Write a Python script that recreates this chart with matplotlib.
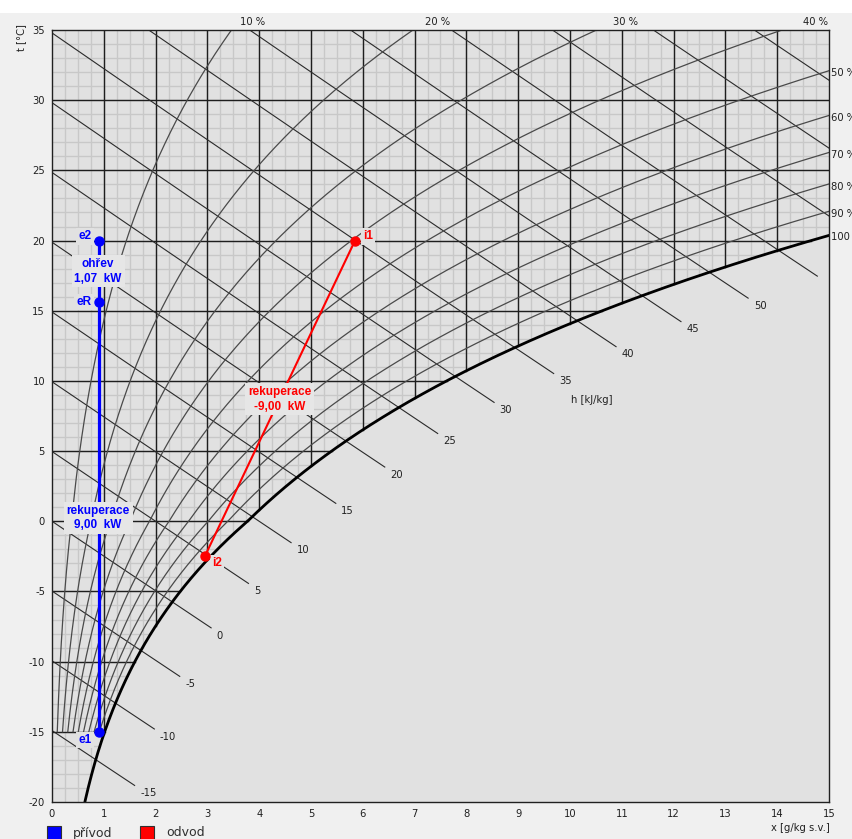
import numpy as np
import matplotlib
matplotlib.use("Agg")
import matplotlib.pyplot as plt
from matplotlib.patches import Rectangle

plt.rcParams["axes.unicode_minus"] = False
plt.rcParams["font.family"] = ["DejaVu Sans"]

# ---------------- data ----------------
x_ticks = list(range(0, 16))
t_ticks = list(range(-20, 40, 5))
rh_levels = [10, 20, 30, 40, 50, 60, 70, 80, 90]
h_levels = list(range(-15, 75, 5))
h_labeled = list(range(-15, 55, 5))

supply_names = ["e1", "eR", "e2"]
supply_x = [0.9, 0.9, 0.9]
supply_t = [-15.0, 15.6, 20.0]

exhaust_names = ["i1", "i2"]
exhaust_x = [5.85, 2.95]
exhaust_t = [20.0, -2.5]

supply_labels = ["ohřev\n1,07  kW", "rekuperace\n9,00  kW"]
exhaust_labels = ["rekuperace\n-9,00  kW"]

P = 101325.0

def ps(t):
    t = np.asarray(t, float)
    return np.where(t >= 0, 611.2 * np.exp(17.62 * t / (243.12 + t)),
                    611.2 * np.exp(22.46 * t / (272.62 + t)))

def xw(t, phi):
    p = phi * ps(t)
    return 622.0 * p / (P - p)

def enth(x, t):
    return 1.006 * t + x / 1000.0 * (2501 + 1.86 * t)

def t_on_h(h, x):
    return (h - 2.501 * x) / (1.006 + 0.00186 * x)

tt = np.linspace(-30, 40, 4000)
xs_sat = xw(tt, 1.0)
hs_sat = enth(xs_sat, tt)

def tsat_of_x(x):
    return np.interp(x, xs_sat, tt)

W, H = 853, 839
fig = plt.figure(figsize=(W / 100, H / 100), dpi=100, facecolor="#f0f0f0")
fig.patches.append(Rectangle((0, 1 - 13 / H), 1, 13 / H, transform=fig.transFigure,
                             facecolor="white", edgecolor="none", zorder=0))
L, R, T, B = 52, 829, 30, 802
ax = fig.add_axes([L / W, 1 - B / H, (R - L) / W, (B - T) / H])
BG = "#e1e1e1"
ax.set_facecolor(BG)
ax.set_xlim(0, 15)
ax.set_ylim(-20, 35)
TXT = "#202020"
FS = 7.2

# minor grid (only unsaturated area)
for xv in np.arange(0.25, 15, 0.25):
    ts = max(tsat_of_x(xv), -20)
    ax.plot([xv, xv], [ts, 35], color="#c8c8c8", lw=1.0, zorder=1)
for tv in range(-19, 35):
    xe = min(float(xw(tv, 1.0)), 15)
    ax.plot([0, xe], [tv, tv], color="#c8c8c8", lw=1.0, zorder=1)

# major grid
for xv in range(1, 15):
    ts = tsat_of_x(xv)
    ax.plot([xv, xv], [ts, 35], color="#1e1e1e", lw=1.0, zorder=2)
for tv in range(-15, 35, 5):
    xe = min(float(xw(tv, 1.0)), 15)
    ax.plot([0, xe], [tv, tv], color="#1e1e1e", lw=1.0, zorder=2)

# enthalpy lines
for h in h_levels:
    ts = np.interp(h, hs_sat, tt)
    xsat = float(xw(ts, 1.0))
    xe = xsat + 0.75
    xx = np.linspace(0, xe, 200)
    ax.plot(xx, t_on_h(h, xx), color="#2a2a2a", lw=0.8, zorder=3)
    if h in h_labeled:
        ax.annotate(str(h), (xe, t_on_h(h, xe)), xytext=(4, -2), textcoords="offset points",
                    ha="left", va="top", fontsize=FS, color=TXT, zorder=6)
ax.text(10.42, 8.65, "h [kJ/kg]", ha="center", va="center", fontsize=FS, color=TXT)

# relative humidity curves
tr = np.linspace(-15, 36, 600)
for rh in rh_levels:
    xr = xw(tr, rh / 100)
    ax.plot(xr, tr, color="#4a4a4a", lw=0.9, zorder=3)
    if xw(35, rh / 100) < 15:
        xl = float(xw(35.4, rh / 100))
        ax.annotate(f"{rh} %", (xl, 35), xytext=(3, 2), textcoords="offset points",
                    ha="left", va="bottom", fontsize=FS, color=TXT, annotation_clip=False)
    else:
        tl = np.interp(15, xr, tr)
        ax.annotate(f"{rh} %", (15, tl), xytext=(1.5, -2), textcoords="offset points",
                    ha="left", va="center", fontsize=FS, color=TXT, annotation_clip=False)
ax.plot(xs_sat, tt, color="black", lw=2.0, zorder=4)
ax.annotate("100 %", (15, tsat_of_x(15)), xytext=(1.5, -1), textcoords="offset points",
            ha="left", va="center", fontsize=FS, color=TXT, annotation_clip=False)

# processes
blue, red = "#0000ff", "#ff0000"
ax.plot(supply_x, supply_t, color=blue, lw=2.3, zorder=7)
ax.plot(supply_x, supply_t, "o", color=blue, ms=6.5, zorder=8)
ax.plot(exhaust_x, exhaust_t, color=red, lw=1.5, zorder=7)
ax.plot(exhaust_x, exhaust_t, "o", color=red, ms=6.5, zorder=8)

LBF = ["Liberation Sans", "DejaVu Sans"]
box = dict(facecolor=BG, edgecolor="none", pad=1.5)
offs = {"e1": (-5, -6), "eR": (-5, 0), "e2": (-5, 3), "i1": (6, 3), "i2": (5, -5)}
for n, x, t in zip(supply_names, supply_x, supply_t):
    ax.annotate(n, (x, t), xytext=offs[n], textcoords="offset points", ha="right",
                va="center", fontsize=8.5, fontweight="bold", color=blue, bbox=box, zorder=6,
                family=LBF)
for n, x, t in zip(exhaust_names, exhaust_x, exhaust_t):
    ax.annotate(n, (x, t), xytext=offs[n], textcoords="offset points", ha="left",
                va="center", fontsize=8.5, fontweight="bold", color=red, bbox=box, zorder=6,
                family=LBF)

lbox = dict(facecolor="#e6e6e6", edgecolor="none", pad=2)
ax.text(0.89, 17.8, supply_labels[0], ha="center", va="center", fontsize=8.5, fontweight="bold",
        color=blue, linespacing=1.25, bbox=lbox, zorder=9, family=LBF)
ax.text(0.89, 0.21, supply_labels[1], ha="center", va="center", fontsize=8.5, fontweight="bold",
        color=blue, linespacing=1.25, bbox=lbox, zorder=9, family=LBF)
ax.text(4.40, 8.68, exhaust_labels[0], ha="center", va="center", fontsize=8.5, fontweight="bold",
        color=red, linespacing=1.25, bbox=lbox, zorder=9, family=LBF)

# axes
ax.set_xticks(x_ticks)
ax.set_yticks(t_ticks)
ax.tick_params(length=0, labelsize=FS, labelcolor=TXT, pad=5)
for s in ax.spines.values():
    s.set_color("#202020")
    s.set_linewidth(1.0)
    s.set_zorder(10)

fig.text(21 / W, 1 - 38 / H, "t [°C]", rotation=90, ha="center", va="center", fontsize=FS,
         color=TXT)
fig.text(830 / W, 1 - 828 / H, "x [g/kg s.v.]", ha="right", va="center", fontsize=FS,
         color=TXT)

# legend
for xpx, col, lab in [(47, blue, "přívod"), (140, red, "odvod")]:
    fig.patches.append(Rectangle((xpx / W, 1 - 840 / H), 14 / W, 14 / H, transform=fig.transFigure,
                                 facecolor=col, edgecolor="#303030", lw=0.8))
    fig.text((xpx + 26) / W, 1 - 833 / H, lab, ha="left", va="center", fontsize=9, color="#303030")

fig.savefig("out.png", dpi=100, facecolor=fig.get_facecolor())
